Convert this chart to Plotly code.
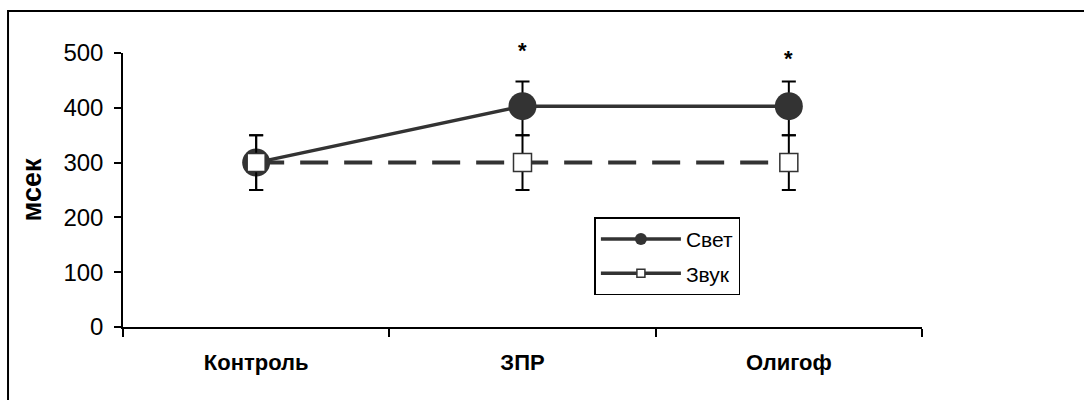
import plotly.graph_objects as go

categories = ["Контроль", "ЗПР", "Олигоф"]
svet = [300, 403, 403]
svet_err_plus = [50, 45, 45]
svet_err_minus = [50, 53, 53]
zvuk = [300, 300, 300]
zvuk_err = [50, 50, 50]
star_cats = ["ЗПР", "Олигоф"]
star_y = [505, 490]
y_ticks = [0, 100, 200, 300, 400, 500]
y_max = 500

DARK = "#333333"
fig = go.Figure()

fig.add_trace(go.Scatter(
    x=categories, y=svet, mode="lines+markers", name="Свет", showlegend=False,
    line=dict(color=DARK, width=3.5),
    marker=dict(symbol="circle", size=28, color=DARK),
    error_y=dict(type="data", array=svet_err_plus, arrayminus=svet_err_minus,
                 color="black", thickness=2, width=7),
))
fig.add_trace(go.Scatter(
    x=categories, y=zvuk, mode="lines+markers", name="Звук", showlegend=False,
    line=dict(color=DARK, width=4, dash="28px,16px"),
    marker=dict(symbol="square", size=18, color="white", line=dict(color=DARK, width=1.5)),
    error_y=dict(type="data", array=zvuk_err, color="black", thickness=2, width=7),
))
# legend-only entries
fig.add_trace(go.Scatter(
    x=[None], y=[None], mode="lines+markers", name="Свет", legendgroup="a",
    line=dict(color=DARK, width=3.5),
    marker=dict(symbol="circle", size=12, color=DARK),
))
fig.add_trace(go.Scatter(
    x=[None], y=[None], mode="lines+markers", name="Звук", legendgroup="b",
    line=dict(color=DARK, width=3.5),
    marker=dict(symbol="square", size=8, color="white", line=dict(color=DARK, width=1.5)),
))

for c, yv in zip(star_cats, star_y):
    fig.add_annotation(x=c, y=yv / y_max, yref="y domain", text="<b>*</b>", showarrow=False,
                       font=dict(size=22, color="black"), yanchor="middle")

fig.add_shape(type="rect", xref="paper", yref="paper",
              x0=-0.1439, y0=-0.29, x1=1.22, y1=1.153,
              line=dict(color="black", width=2), fillcolor="rgba(0,0,0,0)")

fig.update_layout(
    width=1084, height=400,
    margin=dict(l=123, r=162, t=53, b=73),
    paper_bgcolor="white", plot_bgcolor="white",
    font=dict(family="Liberation Sans, Arial, sans-serif", color="black"),
    legend=dict(x=0.59, y=0.40, xanchor="left", yanchor="top",
                bordercolor="black", borderwidth=1.5, bgcolor="white",
                font=dict(size=21), itemwidth=80, tracegroupgap=4),
    xaxis=dict(type="category", range=[-0.5, 2.5], tickson="boundaries",
               showline=True, linecolor="black", linewidth=1.5,
               ticks="outside", ticklen=8, tickwidth=1.5, tickcolor="black",
               showgrid=False, zeroline=False, ticklabelstandoff=15,
               tickfont=dict(size=22)),
    yaxis=dict(range=[0, y_max], tickvals=y_ticks,
               showline=True, linecolor="black", linewidth=1.5,
               ticks="outside", ticklen=7, tickwidth=1.5, tickcolor="black",
               showgrid=False, zeroline=False, tickfont=dict(size=24),
               ticklabelstandoff=6,
               title=dict(text="<b>мсек</b>", font=dict(size=27), standoff=14)),
)
fig.update_xaxes(tickprefix="<b>", ticksuffix="</b>")

fig.write_html("out.html")
